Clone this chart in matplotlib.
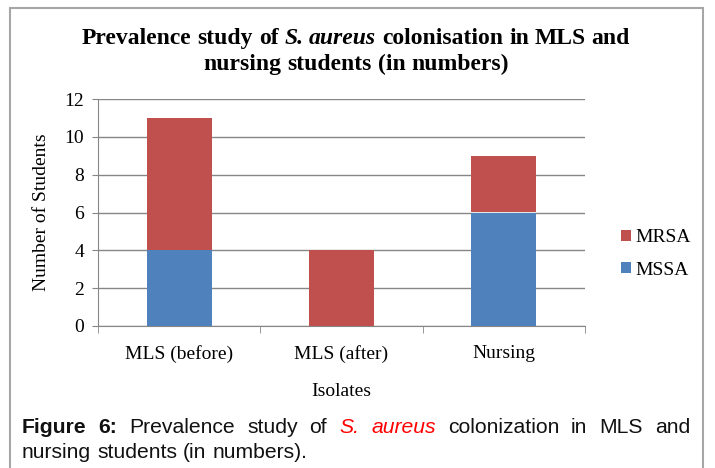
import matplotlib.pyplot as plt
from matplotlib.patches import Rectangle

plt.rcParams["font.family"] = ["Liberation Serif", "DejaVu Serif"]

categories = ["MLS (before)", "MLS (after)", "Nursing"]
mssa = [4, 0, 6]
mrsa = [7, 4, 3]
yticks = [0, 2, 4, 6, 8, 10, 12]

W, H = 715, 468
fig = plt.figure(figsize=(W / 100, H / 100), dpi=100)
renderer = fig.canvas.get_renderer()


def place_words(words, y, size, family, center=None, left=None, right=None):
    # words: (text, weight, style, color); y is the baseline in pixels from top
    texts = []
    for w, weight, style, color in words:
        t = fig.text(0, 1 - y / H, w, fontsize=size, family=family,
                     weight=weight, style=style, color=color, va="baseline")
        texts.append(t)
    widths = [t.get_window_extent(renderer).width for t in texts]
    probe1 = fig.text(0, 0, "x x", fontsize=size, family=family)
    probe2 = fig.text(0, 0, "xx", fontsize=size, family=family)
    space = (probe1.get_window_extent(renderer).width
             - probe2.get_window_extent(renderer).width)
    probe1.remove()
    probe2.remove()
    if left is not None and right is not None:
        gap = (right - left - sum(widths)) / (len(texts) - 1)
        x0 = left
    else:
        gap = space
        total = sum(widths) + gap * (len(texts) - 1)
        x0 = center - total / 2 if center is not None else left
    for t, wd in zip(texts, widths):
        t.set_x(x0 / W)
        x0 += wd + gap


# frame around the whole figure
fig.patches.append(Rectangle((10 / W, -0.02), (703 - 10) / W, 1 - 8 / H + 0.02,
                             transform=fig.transFigure, fill=False,
                             edgecolor="#A6A6A6", linewidth=1.5))

ax = fig.add_axes([98 / W, 1 - 326 / H, (585 - 98) / W, (326 - 99) / H])
x = list(range(len(categories)))
ax.bar(x, mssa, width=0.4, color="#4F81BD", label="MSSA", zorder=3)
ax.bar(x, mrsa, bottom=mssa, width=0.4, color="#C0504D", label="MRSA", zorder=3)

ax.set_xlim(-0.5, 2.5)
ax.set_ylim(0, 12)
ax.set_yticks(yticks)
ax.set_xticks(x)
ax.set_xticklabels(categories)
ax.set_xticks([-0.5, 0.5, 1.5, 2.5], minor=True)
ax.tick_params(axis="x", which="major", length=0, pad=14, labelsize=14)
ax.tick_params(axis="x", which="minor", length=5, color="#868686")
ax.tick_params(axis="y", length=4, color="#868686", pad=6, labelsize=14)
ax.grid(axis="y", color="#868686", linewidth=1, zorder=0)
for s in ["top", "right"]:
    ax.spines[s].set_visible(False)
for s in ["left", "bottom"]:
    ax.spines[s].set_color("#868686")
ax.set_ylabel("Number of Students", fontsize=14, labelpad=10)
ax.set_xlabel("Isolates", fontsize=14, labelpad=14)

handles, labels = ax.get_legend_handles_labels()
fig.legend(handles[::-1], labels[::-1], loc="center left",
           bbox_to_anchor=(621 / W, 1 - 254 / H), frameon=False, fontsize=14,
           handlelength=0.5, handleheight=0.5, handletextpad=0.25,
           labelspacing=0.8, borderpad=0, borderaxespad=0)

# title with italic species name
tb = ("bold", "normal", "black")
ti = ("bold", "italic", "black")
title1 = [("Prevalence",) + tb, ("study",) + tb, ("of",) + tb, ("S.",) + ti,
          ("aureus",) + ti, ("colonisation",) + tb, ("in",) + tb,
          ("MLS",) + tb, ("and",) + tb]
title2 = [("nursing",) + tb, ("students",) + tb, ("(in",) + tb, ("numbers)",) + tb]
place_words(title1, 44, 17, "Liberation Serif", center=356)
place_words(title2, 70, 17, "Liberation Serif", center=356)

# caption below the chart
cb = ("bold", "normal", "#111111")
cn = ("normal", "normal", "#111111")
cr = ("normal", "italic", "#FF0000")
cap1 = [("Figure",) + cb, ("6:",) + cb, ("Prevalence",) + cn, ("study",) + cn,
        ("of",) + cn, ("S.",) + cr, ("aureus",) + cr, ("colonization",) + cn,
        ("in",) + cn, ("MLS",) + cn, ("and",) + cn]
cap2 = [("nursing",) + cn, ("students",) + cn, ("(in",) + cn, ("numbers).",) + cn]
place_words(cap1, 433, 15.2, "Liberation Sans", left=22, right=690)
place_words(cap2, 458, 15.2, "Liberation Sans", left=22)

fig.savefig("out.png", dpi=100)
